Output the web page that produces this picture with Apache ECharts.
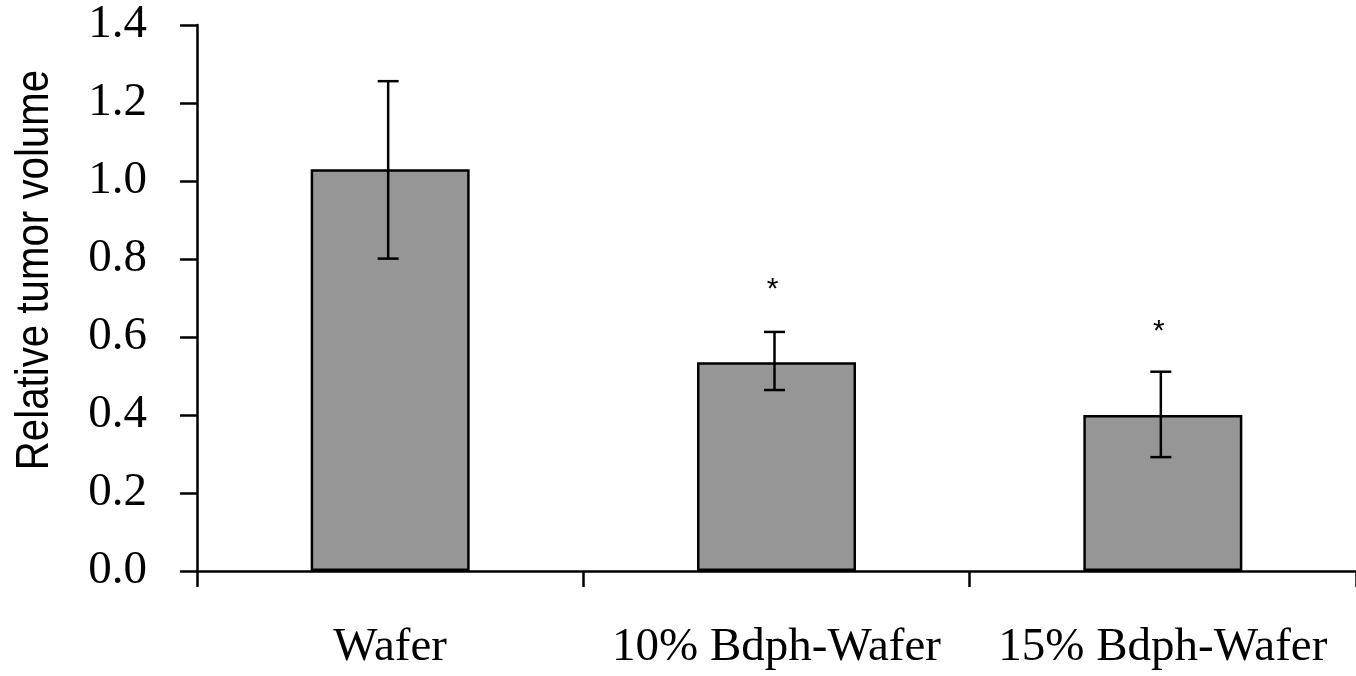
<!DOCTYPE html>
<html>
<head>
<meta charset="utf-8">
<script src="https://cdn.jsdelivr.net/npm/echarts@6/dist/echarts.min.js"></script>
<style>
html,body{margin:0;padding:0;background:#fff;}
#chart{width:1356px;height:676px;}
</style>
</head>
<body>
<div id="chart"></div>
<script>
var categories = ['Wafer', '10% Bdph-Wafer', '15% Bdph-Wafer'];
var means = [1.030, 0.535, 0.400];
var errLow = [0.801, 0.464, 0.292];
var errHigh = [1.256, 0.613, 0.511];
var starValues = [null, 0.738, 0.631];
var yTicks = [0, 0.2, 0.4, 0.6, 0.8, 1.0, 1.2, 1.4];
var yTitle = 'Relative tumor volume';

var chart = echarts.init(document.getElementById('chart'), null, {renderer: 'canvas'});

var errData = categories.map(function (c, i) { return [i, errLow[i], errHigh[i]]; });
var starData = [];
categories.forEach(function (c, i) { if (starValues[i] != null) starData.push([i, starValues[i]]); });

var option = {
  backgroundColor: '#ffffff',
  animation: false,
  grid: {left: 197, right: -2, top: 25, bottom: 105, containLabel: false},
  xAxis: {
    type: 'category',
    data: categories,
    boundaryGap: true,
    axisLine: {lineStyle: {color: '#000', width: 2.5}},
    axisTick: {show: true, length: 16, alignWithLabel: false, lineStyle: {color: '#000', width: 2.5}},
    axisLabel: {color: '#000', fontFamily: 'Liberation Serif', fontSize: 47, margin: 53, interval: 0}
  },
  yAxis: {
    type: 'value',
    min: yTicks[0], max: yTicks[yTicks.length - 1], interval: 0.2,
    splitLine: {show: false},
    axisLine: {show: true, lineStyle: {color: '#000', width: 2.5}},
    axisTick: {show: true, length: 17, lineStyle: {color: '#000', width: 2.5}},
    axisLabel: {color: '#000', fontFamily: 'Liberation Serif', fontSize: 47, margin: 50,
      formatter: function (v) { return v.toFixed(1); }}
  },
  series: [
    {
      type: 'bar',
      data: means,
      barWidth: 159,
      itemStyle: {color: '#969696', borderColor: '#000', borderWidth: 2.5}
    },
    {
      type: 'custom',
      data: errData,
      z: 10,
      renderItem: function (params, api) {
        var x = api.value(0);
        var lo = api.coord([x, api.value(1)]);
        var hi = api.coord([x, api.value(2)]);
        var cx = lo[0] - 2;
        var hw = 10.5;
        var style = {stroke: '#000', lineWidth: 2.5};
        return {
          type: 'group',
          children: [
            {type: 'line', shape: {x1: cx, y1: lo[1], x2: cx, y2: hi[1]}, style: style},
            {type: 'line', shape: {x1: cx - hw, y1: lo[1], x2: cx + hw, y2: lo[1]}, style: style},
            {type: 'line', shape: {x1: cx - hw, y1: hi[1], x2: cx + hw, y2: hi[1]}, style: style}
          ]
        };
      }
    },
    {
      type: 'custom',
      data: starData,
      z: 10,
      renderItem: function (params, api) {
        var p = api.coord([api.value(0), api.value(1)]);
        return {
          type: 'text',
          x: p[0] - 4, y: p[1] + 7,
          style: {text: '*', fill: '#000', font: '30px "Liberation Sans"', align: 'center', verticalAlign: 'middle'}
        };
      }
    }
  ],
  graphic: [
    {
      type: 'text',
      x: 35, y: 270,
      rotation: Math.PI / 2,
      scaleX: 0.875,
      style: {text: yTitle, fill: '#000', font: '46px "Liberation Sans"', align: 'center', verticalAlign: 'middle'}
    }
  ]
};
chart.setOption(option);
</script>
</body>
</html>
